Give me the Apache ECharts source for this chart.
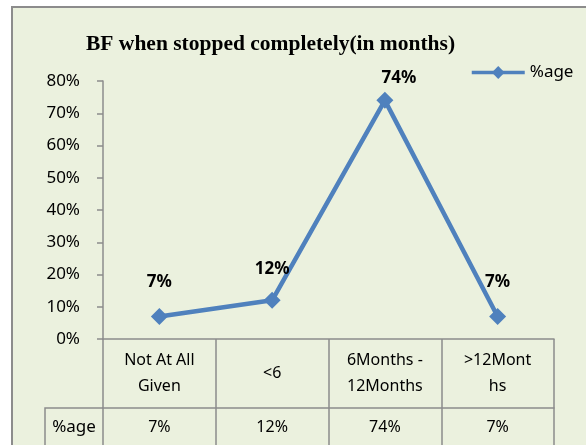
<!DOCTYPE html>
<html>
<head>
<meta charset="utf-8">
<script src="https://cdn.jsdelivr.net/npm/echarts@6/dist/echarts.min.js"></script>
<style>
  html, body { margin: 0; padding: 0; background: #fff; }
  #chart { width: 586px; height: 445px; }
</style>
</head>
<body>
<div id="chart"></div>
<script>
const categories = ['Not At All\nGiven', '<6', '6Months -\n12Months', '>12Mont\nhs'];
const values = [0.07, 0.12, 0.74, 0.07];
const seriesName = '%age';
const yTicks = [0, 0.1, 0.2, 0.3, 0.4, 0.5, 0.6, 0.7, 0.8];

// label placement per point (the labels sit at uneven heights in the source)
const labelGap = [17, 14, 5, 17];
const labelShift = [0, 0, 14, 0];

const pct = v => Math.round(v * 100) + '%';
const gridLine = '#8c8c8c';
const font = 'Noto Sans';

const chart = echarts.init(document.getElementById('chart'));

chart.setOption({
  backgroundColor: '#fff',
  animation: false,
  textStyle: { fontFamily: font },
  title: {
    text: 'BF when stopped completely(in months)',
    left: 81,
    top: 28,
    textStyle: {
      fontFamily: 'Liberation Serif',
      fontWeight: 'bold',
      fontSize: 21.5,
      color: '#000'
    }
  },
  legend: {
    data: [seriesName],
    left: 465,
    top: 59,
    itemWidth: 53,
    itemHeight: 16,
    lineStyle: { width: 3.5 },
    textStyle: { fontFamily: font, fontSize: 17, color: '#000' }
  },
  graphic: [
    {
      type: 'rect',
      z: -10,
      shape: { x: 12, y: 7, width: 600, height: 460 },
      style: { fill: '#ebf1de', stroke: gridLine, lineWidth: 2 }
    },
    {
      type: 'polyline',
      z: 5,
      shape: { points: [[45, 470], [45, 408], [103, 408]] },
      style: { stroke: gridLine, lineWidth: 1.5, fill: null }
    },
    {
      type: 'text',
      z: 5,
      x: 74,
      y: 427,
      style: {
        text: seriesName,
        fontFamily: font,
        fontSize: 17,
        fill: '#000',
        align: 'center',
        verticalAlign: 'middle'
      }
    }
  ],
  grid: {
    left: 103,
    right: 32,
    top: 81,
    bottom: 106
  },
  xAxis: [
    {
      type: 'category',
      data: categories,
      boundaryGap: true,
      axisLine: { show: true, lineStyle: { color: gridLine, width: 1.5 } },
      axisTick: { show: true, length: 110, interval: 0, lineStyle: { color: gridLine, width: 1.5 } },
      axisLabel: {
        interval: 0,
        margin: 34,
        verticalAlign: 'middle',
        lineHeight: 26,
        fontSize: 16,
        color: '#000'
      }
    },
    {
      type: 'category',
      position: 'bottom',
      offset: 69,
      data: values.map(pct),
      boundaryGap: true,
      axisLine: { show: true, lineStyle: { color: gridLine, width: 1.5 } },
      axisTick: { show: false },
      axisLabel: {
        interval: 0,
        margin: 19,
        verticalAlign: 'middle',
        fontSize: 16,
        color: '#000'
      }
    }
  ],
  yAxis: {
    type: 'value',
    min: yTicks[0],
    max: yTicks[yTicks.length - 1],
    interval: 0.1,
    axisLine: { show: true, lineStyle: { color: gridLine, width: 1.5 } },
    axisTick: { show: true, length: 6, lineStyle: { color: gridLine, width: 1.5 } },
    splitLine: { show: false },
    axisLabel: {
      margin: 23,
      fontSize: 17,
      color: '#000',
      formatter: pct
    }
  },
  series: [
    {
      name: seriesName,
      type: 'line',
      data: values.map((v, i) => ({
        value: v,
        label: { distance: labelGap[i], offset: [labelShift[i], 0] }
      })),
      symbol: 'diamond',
      symbolSize: 17,
      lineStyle: { color: '#4f81bd', width: 4.5 },
      itemStyle: { color: '#4f81bd' },
      label: {
        show: true,
        position: 'top',
        fontFamily: font,
        fontWeight: 'bold',
        fontSize: 17,
        color: '#000',
        formatter: p => pct(p.value)
      }
    }
  ]
});
</script>
</body>
</html>
